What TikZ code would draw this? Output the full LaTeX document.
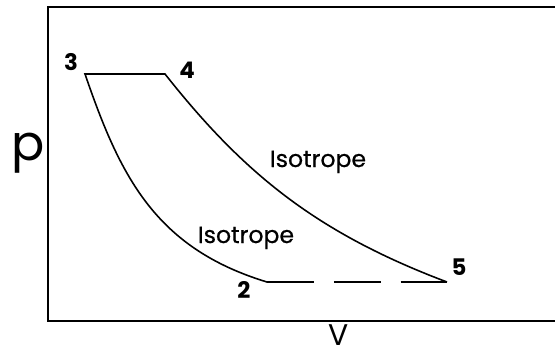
\documentclass[tikz,border=0pt]{standalone}
\usepackage{fontspec}
\setmainfont{Poppins}
\newfontfamily\medfont[FakeBold=0.6]{Poppins}
\usepackage{tikz}
\usetikzlibrary{positioning, calc}

\begin{document}
\begin{tikzpicture}[x=0.02cm, y=-0.02cm,
  frame/.style={line width=1.1pt, line cap=rect},
  curve/.style={line width=0.9pt, line join=miter},
  num/.style={inner sep=0pt, font=\bfseries\fontsize{13}{13}\selectfont},
  lbl/.style={inner sep=0pt, font=\medfont\fontsize{13.4}{13.4}\selectfont},
  axis/.style={inner sep=0pt, font=\fontsize{28}{28}\selectfont}
]
  \useasboundingbox (0,0) rectangle (555,356);
  % state points
  \coordinate (s3) at (85,74);
  \coordinate (s4) at (165,74);
  \coordinate (s2) at (267,282);
  \coordinate (s5) at (447,282);
  \coordinate (tl) at (48,7);
  \coordinate (bl) at (48,321);
  \coordinate (tr) at (555,7);
  \coordinate (br) at (555,321);
  % axes
  \draw[frame] (tr) -- (tl) -- (bl) -- (br);
  \node[axis, anchor=base] (pl) at (28,160) {p};
  \node[axis, anchor=base, font=\fontsize{17}{17}\selectfont] (vl) at (339,345) {V};
  % cycle
  \draw[curve] (s2) .. controls (155,248) and (120,176) .. (s3) -- (s4)
    .. controls (244,174) and (317,233) .. (s5);
  \draw[curve, dash pattern=on 26.6pt off 11.4pt] (s2) -- (s5);
  \node[num, anchor=base] (n3) at (71,70) {3};
  \node[num, anchor=base] (n4) at (187,78) {4};
  \node[num, anchor=base] (n2) at (244,298) {2};
  \node[num, anchor=base] (n5) at (459,275) {5};
  \node[lbl, anchor=base] (iso1) at (318,167) {Isotrope};
  \node[lbl, anchor=base] (iso2) at (246,243) {Isotrope};
\end{tikzpicture}
\end{document}
